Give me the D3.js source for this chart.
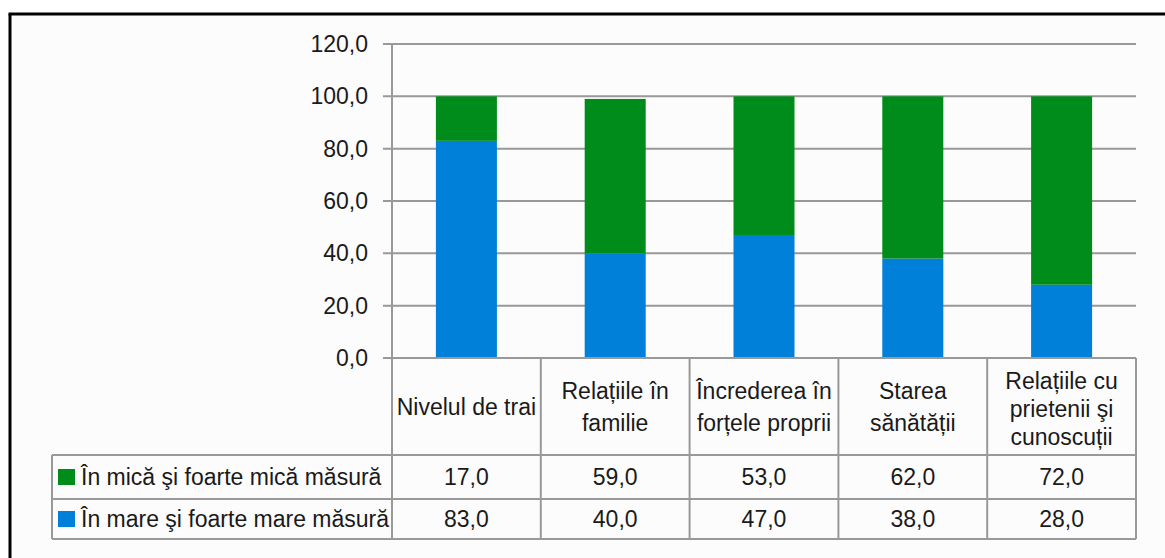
<!DOCTYPE html>
<html>
<head>
<meta charset="utf-8">
<script src="https://cdn.jsdelivr.net/npm/d3@7"></script>
<style>
  html, body { margin: 0; padding: 0; background: #ffffff; }
  svg { display: block; font-family: "Liberation Sans", Arial, sans-serif; }
</style>
</head>
<body>
<svg id="chart" width="1165" height="558"></svg>
<script>
// ---- data ----
const categories = [
  ["Nivelul de trai"],
  ["Relațiile în", "familie"],
  ["Încrederea în", "forțele proprii"],
  ["Starea", "sănătății"],
  ["Relațiile cu", "prietenii şi", "cunoscuții"]
];
const seriesNames = ["În mică şi foarte mică măsură", "În mare şi foarte mare măsură"];
const smallValues = [17.0, 59.0, 53.0, 62.0, 72.0];
const largeValues = [83.0, 40.0, 47.0, 38.0, 28.0];
const yTicks = [0, 20, 40, 60, 80, 100, 120];
const colors = { small: "#008C1A", large: "#0080D8" };

// ---- layout ----
const svg = d3.select("#chart");
const gridColor = "#999999";
const textColor = "#1a1a1a";
const fontSize = 23;

// background panel with border (top + left)
svg.append("rect").attr("x", 10).attr("y", 14).attr("width", 1165).attr("height", 600)
  .attr("fill", "#fcfcfc");
svg.append("line").attr("x1", 8.5).attr("x2", 1165).attr("y1", 14).attr("y2", 14)
  .attr("stroke", "#000").attr("stroke-width", 3);
svg.append("line").attr("x1", 10).attr("x2", 10).attr("y1", 14).attr("y2", 558)
  .attr("stroke", "#000").attr("stroke-width", 3);

const plotLeft = 392, plotRight = 1136, plotTop = 44, plotBottom = 358;
const headerBottom = 455, row1Bottom = 499, row2Bottom = 539, legendLeft = 52;

const idx = d3.range(categories.length);
const x = d3.scaleBand().domain(idx).range([plotLeft, plotRight]).padding(0);
const y = d3.scaleLinear().domain([0, 120]).range([plotBottom, plotTop]);

// gridlines
svg.append("g").selectAll("line").data(yTicks.filter(t => t > 0)).join("line")
  .attr("x1", plotLeft - 9).attr("x2", plotRight)
  .attr("y1", d => y(d)).attr("y2", d => y(d))
  .attr("stroke", gridColor).attr("stroke-width", 2);

// y tick labels
svg.append("g").selectAll("text").data(yTicks).join("text")
  .attr("x", 368).attr("y", d => y(d)).attr("dy", "0.35em")
  .attr("text-anchor", "end").attr("font-size", fontSize).attr("fill", textColor)
  .text(d => d.toFixed(1).replace(".", ","));

// stacked bars
const barW = x.bandwidth() * 0.41;
const stackData = idx.map(i => ({ i, large: largeValues[i], small: smallValues[i] }));
const stack = d3.stack().keys(["large", "small"])(stackData);
svg.append("g").selectAll("g").data(stack).join("g")
  .attr("fill", d => colors[d.key])
  .selectAll("rect").data(d => d).join("rect")
  .attr("x", d => x(d.data.i) + (x.bandwidth() - barW) / 2)
  .attr("width", barW)
  .attr("y", d => y(d[1]))
  .attr("height", d => y(d[0]) - y(d[1]));

// axis & table lines
const lines = svg.append("g").attr("stroke", gridColor).attr("stroke-width", 2);
// y axis line
lines.append("line").attr("x1", plotLeft).attr("x2", plotLeft).attr("y1", plotTop).attr("y2", row2Bottom);
// zero line / table top
lines.append("line").attr("x1", plotLeft - 9).attr("x2", plotRight).attr("y1", plotBottom).attr("y2", plotBottom);
// column separators
idx.forEach(i => {
  const xr = x(i) + x.bandwidth();
  lines.append("line").attr("x1", xr).attr("x2", xr).attr("y1", plotBottom).attr("y2", row2Bottom);
});
// horizontal rows
[headerBottom, row1Bottom, row2Bottom].forEach(yy => {
  lines.append("line").attr("x1", legendLeft).attr("x2", plotRight).attr("y1", yy).attr("y2", yy);
});
lines.append("line").attr("x1", legendLeft).attr("x2", legendLeft).attr("y1", headerBottom).attr("y2", row2Bottom);

// header category labels
const headerMid = (plotBottom + headerBottom) / 2;
idx.forEach(i => {
  const ls = categories[i];
  const lh = ls.length === 3 ? 28 : 32;
  const off = ls.length === 3 ? 2 : 0;
  const cx = x(i) + x.bandwidth() / 2;
  const t = svg.append("text").attr("text-anchor", "middle").attr("font-size", fontSize).attr("fill", textColor);
  ls.forEach((s, k) => {
    t.append("tspan").attr("x", cx)
      .attr("y", headerMid + off + (k - (ls.length - 1) / 2) * lh + 8)
      .text(s);
  });
});

// data rows
const rows = [
  { name: seriesNames[0], vals: smallValues, color: colors.small, top: headerBottom, bot: row1Bottom },
  { name: seriesNames[1], vals: largeValues, color: colors.large, top: row1Bottom, bot: row2Bottom }
];
rows.forEach(r => {
  const cy = (r.top + r.bot) / 2;
  svg.append("rect").attr("x", 58).attr("y", cy - 8).attr("width", 17).attr("height", 16).attr("fill", r.color);
  svg.append("text").attr("x", 81).attr("y", cy).attr("dy", "0.35em")
    .attr("font-size", fontSize).attr("fill", textColor).text(r.name);
  svg.append("g").selectAll("text").data(r.vals).join("text")
    .attr("x", (d, i) => x(i) + x.bandwidth() / 2).attr("y", cy).attr("dy", "0.35em")
    .attr("text-anchor", "middle").attr("font-size", fontSize).attr("fill", textColor)
    .text(d => d.toFixed(1).replace(".", ","));
});
</script>
</body>
</html>
